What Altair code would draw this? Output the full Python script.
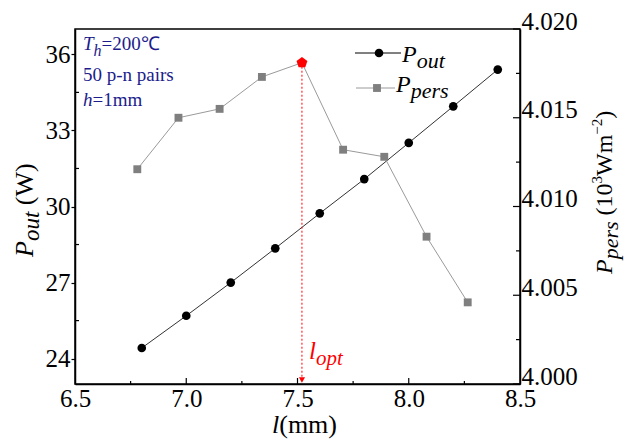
import altair as alt
import pandas as pd

# ---------------- data ----------------
l_out = [6.8, 7.0, 7.2, 7.4, 7.6, 7.8, 8.0, 8.2, 8.4]
p_out = [24.42, 25.69, 27.0, 28.35, 29.73, 31.08, 32.51, 33.95, 35.40]
l_pers = [6.78, 6.965, 7.15, 7.34, 7.52, 7.705, 7.89, 8.08, 8.265]
p_pers = [4.0121, 4.0150, 4.0155, 4.0173, 4.0181, 4.0132, 4.0128, 4.0083, 4.0046]

x_ticks = [6.5, 7.0, 7.5, 8.0, 8.5]
x_minor = [6.75, 7.25, 7.75, 8.25]
x_major_in = [7.0, 7.5, 8.0]
yl_ticks = [24, 27, 30, 33, 36]
yl_minor = [25.5, 28.5, 31.5, 34.5]
yr_ticks = [4.000, 4.005, 4.010, 4.015, 4.020]
yr_minor = [4.0025, 4.0075, 4.0125, 4.0175]

FONT = "Liberation Serif"
NAVY = "#1c1c8c"
W, H = 445, 355

df_out = pd.DataFrame({"l": l_out, "P": p_out})
df_pers = pd.DataFrame({"l": l_pers, "P": p_pers})
df_opt = df_pers.loc[[df_pers["P"].idxmax()]]
dummy = pd.DataFrame({"a": [0]})

X = alt.X("l:Q", scale=alt.Scale(domain=[6.5, 8.5], nice=False, zero=False),
          axis=alt.Axis(values=x_ticks, format=".1f", title=None, grid=False,
                        ticks=False, labelPadding=2, labelFontSize=25,
                        labelFont=FONT, labelColor="black",
                        domainColor="black", domainWidth=1.5, labelFlush=False))

YL_scale = alt.Scale(domain=[23, 37], nice=False, zero=False)
YR_scale = alt.Scale(domain=[4.000, 4.020], nice=False, zero=False)

YL = alt.Y("P:Q", scale=YL_scale,
           axis=alt.Axis(orient="left", values=yl_ticks, format="d", title=None,
                         grid=False, tickSize=4, tickColor="black", tickWidth=1.2,
                         labelPadding=1, labelFontSize=25, labelFont=FONT,
                         labelColor="black", domainColor="black", domainWidth=1.5,
                         labelFlush=False))
YR = alt.Y("P:Q", scale=YR_scale,
           axis=alt.Axis(orient="right", values=yr_ticks, format=".3f", title=None,
                         grid=False, ticks=False, labelPadding=1,
                         labelBaseline="alphabetic", labelFontSize=25,
                         labelFont=FONT, labelColor="black", domainColor="black",
                         domainWidth=1.5, labelFlush=False))


def xtick_layer(vals, length):
    d = pd.DataFrame({"l": vals})
    return alt.Chart(d).mark_rule(color="black", strokeWidth=1.2).encode(
        x=X, y=alt.value(H), y2=alt.value(H - length))


# ---------------- left (P_out) ----------------
out_line = alt.Chart(df_out).mark_line(color="#333333", strokeWidth=1).encode(x=X, y=YL)
out_pts = alt.Chart(df_out).mark_point(shape="circle", filled=True, color="black",
                                       size=75, opacity=1).encode(x=X, y=YL)
yl_min = alt.Chart(pd.DataFrame({"P": yl_minor})).mark_rule(
    color="black", strokeWidth=1.2).encode(
    y=alt.Y("P:Q", scale=YL_scale), x=alt.value(0), x2=alt.value(4))
left = alt.layer(out_line, out_pts, yl_min,
                 xtick_layer(x_minor, 3), xtick_layer(x_major_in, 6))

# ---------------- right (P_pers) ----------------
pers_line = alt.Chart(df_pers).mark_line(color="#9a9a9a", strokeWidth=1).encode(x=X, y=YR)
pers_pts = alt.Chart(df_pers[df_pers.index != df_opt.index[0]]).mark_point(
    shape="square", filled=True, color="#7f7f7f", size=62, opacity=1).encode(x=X, y=YR)
PENT = "M0,-1L0.951,-0.309L0.588,0.809L-0.588,0.809L-0.951,-0.309Z"
opt_pt = alt.Chart(df_opt).mark_point(shape=PENT, filled=True, color="#ff0000",
                                      size=130, opacity=1).encode(x=X, y=YR)
opt_rule = alt.Chart(df_opt).mark_rule(color="#ff0000", strokeWidth=1,
                                       strokeDash=[2, 2]).encode(
    x=X, y=YR, y2=alt.value(H - 3))
opt_arrow = alt.Chart(df_opt).mark_point(shape="triangle-down", filled=True,
                                         color="#ff0000", size=38, opacity=1).encode(
    x=X, y=alt.value(H - 4))
yr_maj = alt.Chart(pd.DataFrame({"P": yr_ticks})).mark_rule(
    color="black", strokeWidth=1.2).encode(
    y=alt.Y("P:Q", scale=YR_scale), x=alt.value(W), x2=alt.value(W - 7))
yr_min = alt.Chart(pd.DataFrame({"P": yr_minor})).mark_rule(
    color="black", strokeWidth=1.2).encode(
    y=alt.Y("P:Q", scale=YR_scale), x=alt.value(W), x2=alt.value(W - 4))
right = alt.layer(pers_line, pers_pts, opt_rule, opt_arrow, opt_pt, yr_maj, yr_min)

# ---------------- text helpers ----------------
WID = {
    "R": {" ": .25, "(": .333, ")": .333, ".": .25, "-": .333, "=": .564, "W": .944,
          "m": .778, "n": .5, "p": .5, "a": .444, "i": .278, "r": .333, "s": .389,
          "h": .5, "l": .278, "℃": .95, "−": .564},
    "I": {"P": .611, "T": .556, "h": .5, "o": .5, "u": .5, "t": .278, "p": .5,
          "e": .444, "r": .389, "s": .389, "l": .278},
}


def width(s, size, st):
    return sum(WID[st].get(c, .5) for c in s) * size


def txt(s, x, y, size, style="R", color="black", angle=0):
    kw = dict(text=s, font=FONT, fontSize=size, color=color, align="left",
              baseline="alphabetic")
    if style == "I":
        kw["fontStyle"] = "italic"
    if angle:
        kw["angle"] = angle
    return alt.Chart(dummy).mark_text(**kw).encode(x=alt.value(x), y=alt.value(y))


def run(pieces, x0, y0, color="black", vertical=False):
    out = []
    pos = 0.0
    for s, size, st, shift in pieces:
        lead = len(s) - len(s.lstrip(" "))
        p = pos + lead * WID["R"][" "] * size
        body = s.lstrip(" ")
        if vertical:
            out.append(txt(body, x0 + shift, y0 - p, size, st, color, angle=270))
        else:
            out.append(txt(body, x0 + p, y0 + shift, size, st, color))
        pos += width(s, size, st)
    return out


texts = []
# top-left annotation
texts += run([("T", 19, "I", 0), ("h", 16, "I", 6), ("=200℃", 19, "R", 0)], 8, 21, NAVY)
texts += run([("50 p-n pairs", 19, "R", 0)], 8, 52, NAVY)
texts += run([("h", 19, "I", 0), ("=1mm", 19, "R", 0)], 8, 77, NAVY)
# legend
leg_l1 = alt.Chart(dummy).mark_rule(color="black", strokeWidth=1).encode(
    x=alt.value(280), x2=alt.value(326), y=alt.value(24))
leg_p1 = alt.Chart(dummy).mark_point(shape="circle", filled=True, color="black",
                                     size=75, opacity=1).encode(
    x=alt.value(304), y=alt.value(24))
leg_l2 = alt.Chart(dummy).mark_rule(color="#9a9a9a", strokeWidth=1).encode(
    x=alt.value(281), x2=alt.value(320), y=alt.value(59))
leg_p2 = alt.Chart(dummy).mark_point(shape="square", filled=True, color="#7f7f7f",
                                     size=62, opacity=1).encode(
    x=alt.value(302), y=alt.value(59))
texts += [leg_l1, leg_p1, leg_l2, leg_p2]
texts += run([("P", 24, "I", 0), ("out", 22, "I", 6)], 327, 33)
texts += run([("P", 24, "I", 0), ("pers", 22, "I", 6)], 321, 63)
# l_opt label
texts += run([("l", 25, "I", 0), ("opt", 21, "I", 6)], 234, 330, "#ff0000")
# axis titles
texts += run([("l", 26, "I", 0), ("(mm)", 26, "R", 0)], 197, 404)
texts += run([("P", 26, "I", 0), ("out", 23, "I", 6), (" (W)", 26, "R", 0)],
             -42, 228, vertical=True)
texts += run([("P", 24, "I", 0), ("pers", 22, "I", 6), (" (10", 24, "R", 0),
              ("3", 15, "R", -10), ("Wm", 24, "R", 0), ("−2", 15, "R", -10),
              (")", 24, "R", 0)], 537, 245, vertical=True)

annot = alt.layer(*texts)

chart = alt.layer(left, right, annot).resolve_scale(y="independent").properties(
    width=W, height=H,
    padding={"left": 75, "top": 29, "right": 120, "bottom": 57},
    autosize=alt.AutoSizeParams(type="none"),
    background="white",
).configure_view(stroke="black", strokeWidth=1.5)

chart.save("out.html", embed_options={"renderer": "svg", "actions": False})
